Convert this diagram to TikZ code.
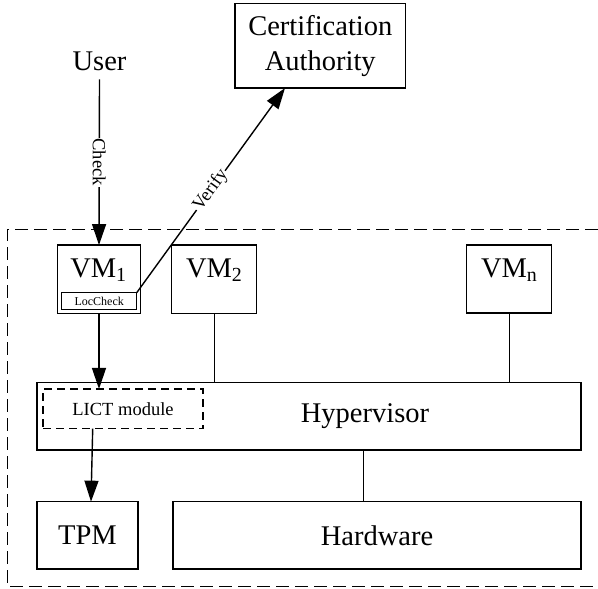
\documentclass[tikz,border=0pt]{standalone}
\usepackage{fontspec}
\setmainfont{Liberation Serif}
\usetikzlibrary{arrows.meta}

\newcommand{\bigtxt}{\fontsize{28.5}{35}\selectfont}
\newcommand{\midtxt}{\fontsize{18.5}{22}\selectfont}
\newcommand{\smalltxt}{\fontsize{12}{14}\selectfont}

\tikzset{
  box/.style={draw, line width=1.4pt, inner sep=0pt, outer sep=0pt, fill=white},
  dbox/.style={draw, line width=1.3pt, dash pattern=on 8pt off 5pt, inner sep=0pt, outer sep=0pt},
  txt/.style={inner sep=0pt, outer sep=0pt, font=\bigtxt},
  arr/.style={line width=1.4pt, -{Triangle[length=21pt,width=14pt]}},
  link/.style={line width=1.1pt},
  frame/.style={line width=1.4pt, dash pattern=on 13pt off 6pt},
  lbl/.style={fill=white, inner sep=1pt, font=\midtxt}
}

\begin{document}
\begin{tikzpicture}[x=1pt, y=-1pt]
  \useasboundingbox (0,0) rectangle (598,589);

  % host platform boundary (open on the right)
  \draw[frame] (598,229.5) -- (7.5,229.5) -- (7.5,586.5) -- (598,586.5);

  % external parties
  \node[box, minimum width=170.4pt, minimum height=84.7pt, align=center, font=\bigtxt]
       (ca) at (320.3,45.7) {Certification\\Authority};
  \node[txt, inner sep=6pt, outer sep=3pt] (user) at (99.5,61) {User};

  % virtual machines
  \node[box, minimum width=83.4pt, minimum height=68.3pt] (vm1) at (99,279.2) {};
  \node[txt] (vm1t) at (98.5,270) {VM\textsubscript{1}};
  \node[box, minimum width=75pt, minimum height=16.6pt, font=\smalltxt] (loc) at (99.2,301) {LocCheck};
  \node[box, minimum width=85pt, minimum height=68.3pt] (vm2) at (214.2,279.2) {};
  \node[txt] (vm2t) at (214.2,270) {VM\textsubscript{2}};
  \node[box, minimum width=85pt, minimum height=67.7pt] (vmn) at (509.2,279) {};
  \node[txt] (vmnt) at (509.2,270) {VM\textsubscript{n}};

  % hypervisor layer
  \node[box, minimum width=544pt, minimum height=67.3pt] (hyp) at (309,416.4) {};
  \node[txt] (hypt) at (365,416) {Hypervisor};
  \node[dbox, minimum width=160pt, minimum height=39.7pt, font=\midtxt] (lict) at (123,408.8) {LICT module};

  % hardware layer
  \node[box, minimum width=101pt, minimum height=67.3pt, font=\bigtxt] (tpm) at (87.5,535.3) {TPM};
  \node[box, minimum width=408pt, minimum height=67.3pt, font=\bigtxt] (hw) at (377,535.3) {Hardware};

  % connectors
  \draw[arr] (user.south) -- node[lbl, rotate=-90, pos=0.5] (chk) {Check} (vm1.north);
  \draw[arr] (loc.north east) -- node[lbl, sloped, pos=0.5] (vfy) {Verify} ([xshift=-35.3pt]ca.south);
  \draw[arr] (vm1.south) -- (vm1.south |- lict.north);
  \draw[arr] ([xshift=-30.3pt]lict.south) -- ([xshift=3.5pt]tpm.north);
  \draw[link] (vm2.south) -- (vm2.south |- hyp.north);
  \draw[link] (vmn.south) -- (vmn.south |- hyp.north);
  \draw[link] ([xshift=-13.7pt]hw.north) -- ([xshift=-13.7pt]hw.north |- hyp.south);
\end{tikzpicture}
\end{document}
